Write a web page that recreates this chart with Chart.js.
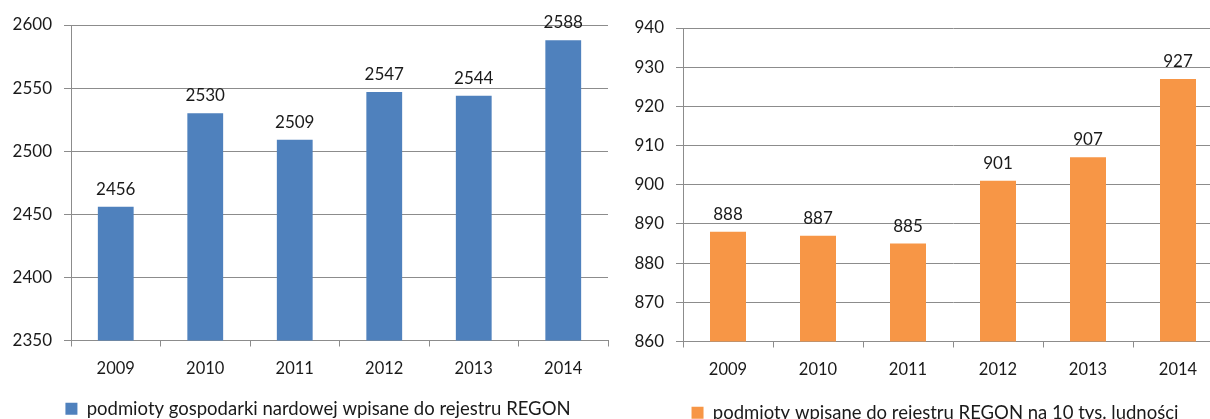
<!DOCTYPE html>
<html>
<head>
<meta charset="utf-8">
<script src="https://cdn.jsdelivr.net/npm/chart.js@4"></script>
<style>
  html, body { margin: 0; padding: 0; background: #fff; overflow: hidden; width: 1210px; height: 419px; }
  #c1 { position: absolute; left: 0; top: 0; }
  #c2 { position: absolute; left: 612px; top: 0; }
</style>
</head>
<body>
<canvas id="c1" width="636" height="428"></canvas>
<canvas id="c2" width="646" height="432"></canvas>
<script>
const categories = ['2009', '2010', '2011', '2012', '2013', '2014'];
const regonValues = [2456, 2530, 2509, 2547, 2544, 2588];
const perCapitaValues = [888, 887, 885, 901, 907, 927];
const regonLabel = 'podmioty gospodarki nardowej wpisane do rejestru REGON';
const perCapitaLabel = 'podmioty wpisane do rejestru REGON na 10 tys. ludności';
const leftTicks = { min: 2350, max: 2600, step: 50 };
const rightTicks = { min: 860, max: 940, step: 10 };

const FONT = 'Lato, "Open Sans", sans-serif';
const TEXT = '#1a1a1a';
const GRID = '#8c8c8c';

const valueLabels = {
  id: 'valueLabels',
  afterDatasetsDraw(chart) {
    const ctx = chart.ctx;
    ctx.save();
    ctx.font = '17px ' + FONT;
    ctx.fillStyle = TEXT;
    ctx.textAlign = 'center';
    ctx.textBaseline = 'alphabetic';
    chart.data.datasets.forEach((ds, i) => {
      chart.getDatasetMeta(i).data.forEach((bar, j) => {
        ctx.fillText(String(ds.data[j]), bar.x, bar.y - 12);
      });
    });
    ctx.restore();
  }
};

function makeChart(id, values, label, color, ticks, cfg) {
  return new Chart(document.getElementById(id), {
    type: 'bar',
    data: {
      labels: categories,
      datasets: [{
        label: label,
        data: values,
        backgroundColor: color,
        borderWidth: 0,
        categoryPercentage: 1,
        barPercentage: 0.4
      }]
    },
    options: {
      responsive: false,
      animation: false,
      layout: { padding: { left: 0, right: 0, top: cfg.top, bottom: 0 } },
      plugins: {
        legend: {
          display: true,
          position: 'bottom',
          labels: {
            boxWidth: 12, boxHeight: 12, padding: cfg.legendPad,
            color: TEXT, font: { family: FONT, size: 18.5 }
          }
        },
        tooltip: { enabled: false }
      },
      scales: {
        x: {
          grid: { offset: true, drawOnChartArea: false, drawTicks: true, tickLength: 6, color: GRID },
          border: { display: true, color: GRID, width: 1 },
          ticks: { color: TEXT, font: { family: FONT, size: 16.5 }, padding: 12, maxRotation: 0 },
          afterFit(scale) { scale.height = cfg.xHeight; }
        },
        y: {
          min: ticks.min, max: ticks.max,
          grid: { color: GRID, lineWidth: 1, drawTicks: true, tickLength: 7 },
          border: { display: true, color: GRID, width: 1 },
          ticks: {
            stepSize: ticks.step, color: TEXT, font: { family: FONT, size: 17 }, padding: 12,
            callback: (v) => String(v)
          },
          afterFit(scale) { scale.width = cfg.yWidth; }
        },
        spacer: {
          type: 'linear',
          position: 'right',
          display: true,
          grid: { display: false, drawTicks: false },
          border: { display: false },
          ticks: { display: false },
          afterFit(scale) { scale.width = cfg.rightGap; }
        }
      }
    },
    plugins: [valueLabels]
  });
}

makeChart('c1', regonValues, regonLabel, '#4f81bd', leftTicks,
  { rightGap: 28, top: 25, legendPad: 4, xHeight: 55, yWidth: 71 });
makeChart('c2', perCapitaValues, perCapitaLabel, '#f79646', rightTicks,
  { rightGap: 35, top: 28, legendPad: 4, xHeight: 58, yWidth: 71 });
</script>
</body>
</html>
